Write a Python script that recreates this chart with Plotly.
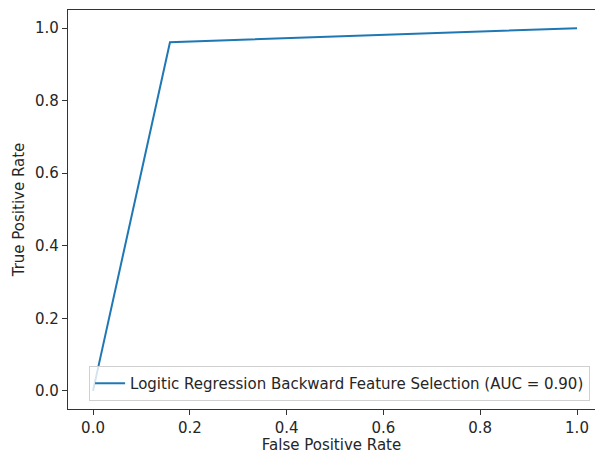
import plotly.graph_objects as go

# ROC curve points for the backward-selected logistic regression model
fpr = [0.0, 0.159, 1.0]
tpr = [0.0, 0.961, 1.0]
auc_value = 0.90
model_name = "Logitic Regression Backward Feature Selection"
tick_vals = [0.0, 0.2, 0.4, 0.6, 0.8, 1.0]
tick_text = ["0.0", "0.2", "0.4", "0.6", "0.8", "1.0"]

font_family = "DejaVu Sans"
axis_color = "#333333"
fsize = 15

fig = go.Figure()
fig.add_trace(go.Scatter(
    x=fpr, y=tpr, mode="lines",
    line=dict(color="#1f77b4", width=2),
    name=f"{model_name} (AUC = {auc_value:.2f})",
))

fig.update_layout(
    width=595, height=454,
    margin=dict(l=68, r=0, t=10, b=45),
    paper_bgcolor="white", plot_bgcolor="white",
    font=dict(family=font_family, size=fsize, color="#262626"),
    showlegend=True,
    legend=dict(
        x=0.04, y=0.02, xanchor="left", yanchor="bottom",
        bgcolor="rgba(255,255,255,0.8)", bordercolor="#d0d0d0", borderwidth=1,
        font=dict(family=font_family, size=fsize, color="#262626"),
        itemwidth=30,
    ),
)

fig.update_xaxes(
    range=[-0.0517, 1.0372],
    tickvals=tick_vals, ticktext=tick_text,
    showgrid=False, zeroline=False,
    showline=True, linecolor=axis_color, linewidth=1.3, mirror=True,
    ticks="outside", ticklen=5, tickcolor=axis_color, tickwidth=1.2,
    title=dict(text="False Positive Rate", font=dict(size=fsize), standoff=4),
)
fig.update_yaxes(
    range=[-0.05, 1.05],
    tickvals=tick_vals, ticktext=tick_text,
    showgrid=False, zeroline=False,
    showline=True, linecolor=axis_color, linewidth=1.3, mirror=False,
    ticks="outside", ticklen=5, tickcolor=axis_color, tickwidth=1.2,
    title=dict(text="True Positive Rate", font=dict(size=fsize), standoff=6),
)

fig.write_html("out.html")
